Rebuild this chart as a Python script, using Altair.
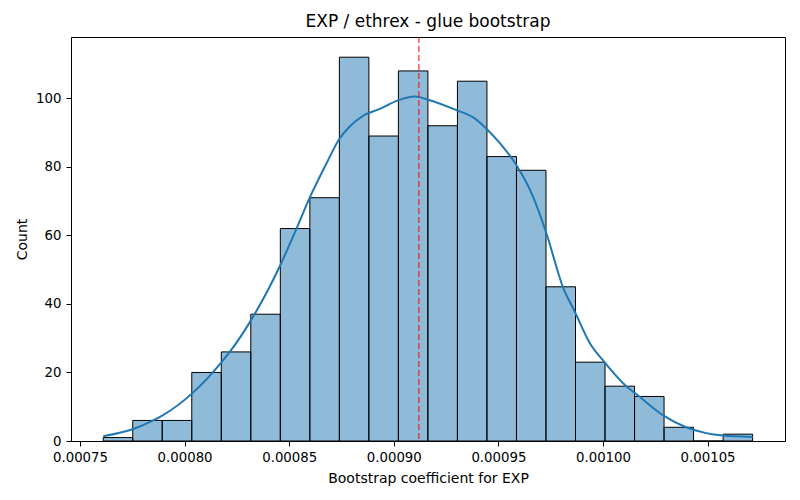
import altair as alt
import pandas as pd

# Histogram bin edges (23 edges -> 22 bins) and counts
bin_edges = [0.00076110, 0.00077521, 0.00078932, 0.00080343, 0.00081754, 0.00083165,
             0.00084576, 0.00085987, 0.00087398, 0.00088809, 0.00090220, 0.00091631,
             0.00093042, 0.00094453, 0.00095864, 0.00097275, 0.00098686, 0.00100097,
             0.00101508, 0.00102919, 0.00104330, 0.00105741, 0.00107152]
counts = [1, 6, 6, 20, 26, 37, 62, 71, 112, 89, 108, 92, 105, 83, 79, 45, 23, 16, 13, 4, 0, 2]

# KDE curve (scaled to counts)
kde_x = [0.0007611, 0.0007755, 0.0007850, 0.0007893, 0.0008036, 0.0008175, 0.0008216,
         0.0008317, 0.0008455, 0.0008535, 0.0008598, 0.0008678, 0.0008738, 0.0008789,
         0.0008853, 0.0008933, 0.0009020, 0.0009100, 0.0009163, 0.0009302, 0.0009378,
         0.0009445, 0.0009506, 0.0009585, 0.0009665, 0.0009729, 0.0009808, 0.0009867,
         0.0009936, 0.0010007, 0.0010111, 0.0010159, 0.0010290, 0.0010397, 0.0010493,
         0.0010572, 0.0010715]
kde_y = [1.4, 3.5, 6.0, 7.4, 13.9, 22.9, 26.0, 35.2, 51.0, 62.0, 71.0, 81.0, 88.0, 91.8,
         94.9, 96.9, 99.4, 100.5, 99.6, 96.5, 94.5, 91.0, 87.0, 80.6, 71.4, 60.7, 45.0,
         37.5, 28.7, 23.0, 16.0, 13.7, 7.4, 4.0, 2.3, 1.6, 1.2]

mean_value = [0.000912]

x_ticks = [0.00075, 0.00080, 0.00085, 0.00090, 0.00095, 0.00100, 0.00105]
y_ticks = [0, 20, 40, 60, 80, 100]

bars = pd.DataFrame({"x0": bin_edges[:-1], "x1": bin_edges[1:], "count": counts})
kde = pd.DataFrame({"x": kde_x, "y": kde_y})
mean_df = pd.DataFrame({"m": mean_value})

FONT = "DejaVu Sans"
xscale = alt.Scale(domain=[0.0007457, 0.001087], nice=False, zero=False)
yscale = alt.Scale(domain=[0, 117.9], nice=False)

xaxis = alt.Axis(values=x_ticks, format=".5f", title="Bootstrap coefficient for EXP",
                 grid=False, tickSize=5, labelPadding=4, titlePadding=8)
yaxis = alt.Axis(values=y_ticks, title="Count", grid=False, tickSize=5,
                 labelPadding=5, titlePadding=6)

hist = alt.Chart(bars).mark_rect(fill="#1f77b4", fillOpacity=0.5, stroke="black",
                                  strokeWidth=1).encode(
    x=alt.X("x0:Q", scale=xscale, axis=xaxis),
    x2="x1:Q",
    y=alt.Y("count:Q", scale=yscale, axis=yaxis),
    y2=alt.datum(0),
)

line = alt.Chart(kde).mark_line(color="#1f77b4", strokeWidth=2,
                                interpolate="monotone").encode(
    x=alt.X("x:Q", scale=xscale),
    y=alt.Y("y:Q", scale=yscale),
)

rule = alt.Chart(mean_df).mark_rule(color="#ff0000", strokeWidth=1,
                                    strokeDash=[6, 3]).encode(
    x=alt.X("m:Q", scale=xscale),
)

chart = alt.layer(hist, line, rule).properties(
    width=714,
    height=404,
    autosize=alt.AutoSizeParams(type="none"),
    padding={"left": 63, "top": 29, "right": 7, "bottom": 51},
    title=alt.TitleParams("EXP / ethrex - glue bootstrap", font=FONT, fontSize=17,
                          fontWeight="normal", color="black", offset=6),
).configure_view(
    stroke="black", strokeWidth=1
).configure_axis(
    labelFont=FONT, titleFont=FONT, labelFontSize=13.3, titleFontSize=14,
    titleFontWeight="normal", labelColor="black", titleColor="black",
    domainColor="black", tickColor="black", domain=True
)

chart.save("out.html", embed_options={"renderer": "svg", "actions": False})
